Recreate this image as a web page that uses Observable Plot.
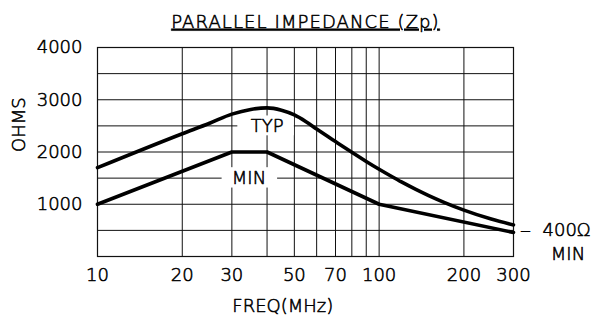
<!DOCTYPE html>
<html>
<head>
<meta charset="utf-8">
<script src="https://cdn.jsdelivr.net/npm/d3@7"></script>
<script src="https://cdn.jsdelivr.net/npm/@observablehq/plot@0.6"></script>
<style>
  html, body { margin: 0; padding: 0; background: #fff; }
  .ttl text { letter-spacing: 1.1px; text-decoration: underline; }
</style>
</head>
<body>
<div id="chart"></div>
<script>
// ---- data ----
const title = "PARALLEL IMPEDANCE (Zp)";
const yLabel = "OHMS";
const xLabel = "FREQ(MHz)";

const xTicks = [10, 20, 30, 50, 70, 100, 200, 300];
const xGrid = [10, 20, 30, 40, 50, 60, 70, 80, 90, 100, 200, 300];
const yTicks = [1000, 2000, 3000, 4000];
const yGrid = [0, 500, 1000, 1500, 2000, 2500, 3000, 3500, 4000];

const typFreq = [10, 20, 25, 30, 35, 40, 45, 50, 55, 60, 70, 80, 90, 100, 110, 120, 135, 150, 170, 200, 250, 300];
const typOhms = [1700, 2350, 2550, 2725, 2815, 2845, 2800, 2710, 2580, 2440, 2200, 1995, 1820, 1670, 1541, 1427, 1285, 1166, 1037, 887, 716, 605];

const minFreq = [10, 30, 40, 100, 300];
const minOhms = [1000, 2000, 2000, 1000, 460];

const curveLabels = ["TYP", "MIN"];
const labelFreq = [40, 34.5];
const labelOhms = [2500, 1500];
const boxFreq1 = [31.5, 27.7];
const boxFreq2 = [50, 43.6];
const boxOhms1 = [2310, 1310];
const boxOhms2 = [2690, 1700];

const noteFreq = 300;
const noteOhms = 460;
const noteDash = "—";
const noteValue = "400Ω";
const noteSub = "MIN";

// ---- build ----
const typ = typFreq.map((f, i) => ({f, v: typOhms[i]}));
const mn = minFreq.map((f, i) => ({f, v: minOhms[i]}));
const labels = curveLabels.map((t, i) => ({
  t, f: labelFreq[i], v: labelOhms[i],
  f1: boxFreq1[i], f2: boxFreq2[i], v1: boxOhms1[i], v2: boxOhms2[i]
}));

const font = "DejaVu Sans";
const ink = "#000";
const txt = {fontSize: 18, fill: ink, fontWeight: 200, stroke: ink, strokeWidth: 0.55, lineAnchor: "middle"};

const chart = Plot.plot({
  width: 592,
  height: 316,
  marginLeft: 97,
  marginRight: 79,
  marginTop: 47,
  marginBottom: 60,
  style: {fontFamily: font, fontSize: "18px", fontWeight: 200, color: ink, background: "#fff", overflow: "visible"},
  x: {type: "log", domain: [10, 300], axis: null},
  y: {domain: [0, 4000], axis: null},
  marks: [
    Plot.gridX(xGrid, {stroke: "#111", strokeOpacity: 1, strokeWidth: 1}),
    Plot.gridY(yGrid, {stroke: "#111", strokeOpacity: 1, strokeWidth: 1}),
    Plot.frame({stroke: "#111", strokeWidth: 1.2}),
    Plot.rect(labels, {x1: "f1", x2: "f2", y1: "v1", y2: "v2", fill: "#fff"}),
    Plot.line(typ, {x: "f", y: "v", curve: "monotone-x", stroke: ink, strokeWidth: 3.6, strokeLinejoin: "round"}),
    Plot.line(mn, {x: "f", y: "v", curve: "linear", stroke: ink, strokeWidth: 3.6, strokeLinejoin: "round"}),
    Plot.text(labels, {x: "f", y: "v", text: "t", ...txt}),
    Plot.text(xTicks, {x: d => d, text: d => String(d), frameAnchor: "bottom", dy: 19, ...txt}),
    Plot.text(yTicks, {y: d => d, text: d => String(d), frameAnchor: "left", dx: -15, textAnchor: "end", ...txt}),
    Plot.text([title], {frameAnchor: "top", dy: -25.5, className: "ttl", ...txt}),
    Plot.text([yLabel], {frameAnchor: "left", y: [2000], dx: -78.5, rotate: -90, ...txt}),
    Plot.text([xLabel], {x: [45.5], frameAnchor: "bottom", dy: 50, ...txt}),
    Plot.text([noteDash], {x: [noteFreq], y: [noteOhms], dx: 12, dy: -2, ...txt, fontSize: 10}),
    Plot.text([noteValue], {x: [noteFreq], y: [noteOhms], dx: 29, dy: -2, textAnchor: "start", ...txt}),
    Plot.text([noteSub], {x: [noteFreq], y: [noteOhms], dx: 54.5, dy: 22, ...txt})
  ]
});
document.getElementById("chart").appendChild(chart);
</script>
</body>
</html>
